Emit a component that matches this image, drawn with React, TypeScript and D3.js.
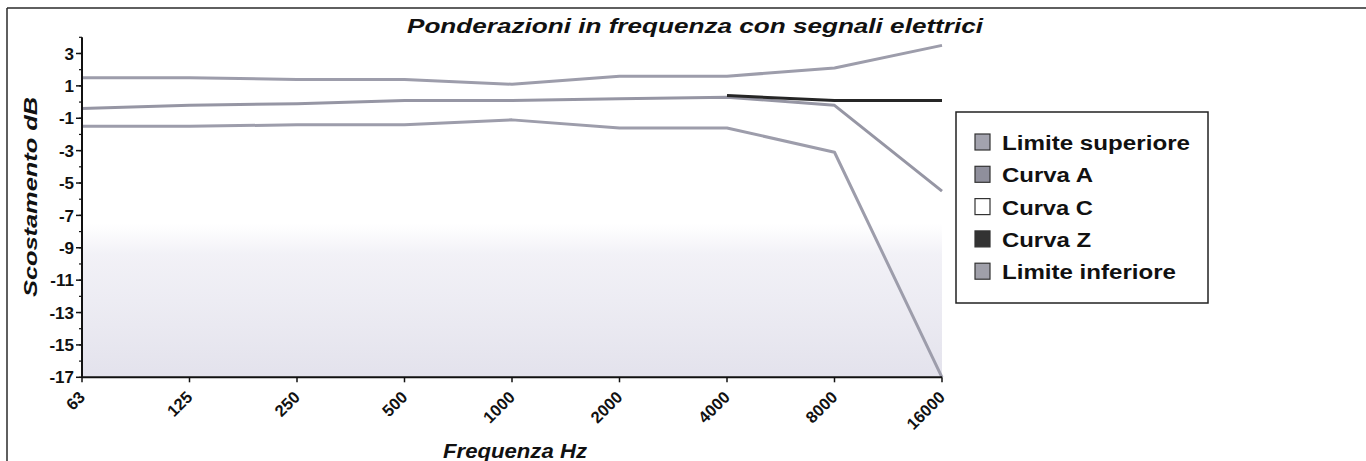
import React from "react";
import * as d3 from "d3";

const freqs = ["63", "125", "250", "500", "1000", "2000", "4000", "8000", "16000"];
const limiteSuperiore: (number | null)[] = [1.5, 1.5, 1.4, 1.4, 1.1, 1.6, 1.6, 2.1, 3.5];
const curvaA: (number | null)[] = [-0.4, -0.2, -0.1, 0.1, 0.1, 0.2, 0.3, -0.2, -5.5];
const curvaC: (number | null)[] = [null, null, null, null, null, null, null, null, null];
const curvaZ: (number | null)[] = [null, null, null, null, null, null, 0.4, 0.1, 0.1];
const limiteInferiore: (number | null)[] = [-1.5, -1.5, -1.4, -1.4, -1.1, -1.6, -1.6, -3.1, -17];
const yTicks = [3, 1, -1, -3, -5, -7, -9, -11, -13, -15, -17];
const yMinor = d3.range(-17, 5, 1);

const seriesNames = ["Limite superiore", "Curva A", "Curva C", "Curva Z", "Limite inferiore"];
const seriesData = [limiteSuperiore, curvaA, curvaC, curvaZ, limiteInferiore];
const lineColors = ["#9d9dab", "#9696a4", "#ffffff", "#262626", "#9d9dab"];
const swatchColors = ["#a3a3ae", "#8f8f9c", "#ffffff", "#333333", "#a0a0aa"];
const legendTextWidths = [188, 91, 91, 89, 174];

export default function App() {
  const W = 1366, H = 461;
  const x = d3.scalePoint<string>().domain(freqs).range([82, 942]);
  const y = d3.scaleLinear().domain([-17, 4]).range([377.3, 37.3]);
  const line = d3
    .line<number | null>()
    .defined((d) => d !== null)
    .x((_, i) => x(freqs[i]) as number)
    .y((d) => y(d as number));

  const font = "'Liberation Sans', Arial, Helvetica, sans-serif";
  const legendX = 956, legendY = 112, legendW = 252, legendH = 191;

  return (
    <svg
      width={W}
      height={H}
      style={{ position: "absolute", left: 0, top: 0, background: "#fff" }}
      fontFamily={font}
    >
      <defs>
        <linearGradient id="scan" x1="0" y1="0" x2="0" y2="1">
          <stop offset="0" stopColor="#ecebf3" stopOpacity="0" />
          <stop offset="0.2" stopColor="#e9e8f1" stopOpacity="0.6" />
          <stop offset="1" stopColor="#e3e2ec" stopOpacity="1" />
        </linearGradient>
      </defs>
      <rect x={0} y={0} width={W} height={H} fill="#fff" />
      {/* outer frame */}
      <line x1={7} y1={8} x2={W} y2={8} stroke="#2a2a2a" strokeWidth={1.5} />
      <line x1={7} y1={8} x2={7} y2={H} stroke="#2a2a2a" strokeWidth={1.5} />

      {/* scan tint */}
      <rect x={x("63")} y={y(-7.5)} width={(x("16000") as number) - (x("63") as number)} height={y(-17) - y(-7.5)} fill="url(#scan)" />

      {/* title */}
      <text x={407} y={33} fontSize={21} fontWeight="bold" fontStyle="italic" textLength={576} lengthAdjust="spacingAndGlyphs" fill="#111">
        Ponderazioni in frequenza con segnali elettrici
      </text>

      {/* series lines */}
      {seriesData.map((s, i) => (
        <path key={i} d={line(s) || ""} fill="none" stroke={lineColors[i]} strokeWidth={3} strokeLinejoin="round" />
      ))}

      {/* y axis */}
      <line x1={82} y1={y(4)} x2={82} y2={y(-17)} stroke="#111" strokeWidth={2} />
      {yMinor.map((v) => (
        <line key={"m" + v} x1={79} x2={82} y1={y(v)} y2={y(v)} stroke="#111" strokeWidth={1.2} />
      ))}
      {yTicks.map((v) => (
        <g key={v}>
          <line x1={76} x2={82} y1={y(v)} y2={y(v)} stroke="#111" strokeWidth={1.5} />
          <text x={74} y={y(v)} dy="0.36em" textAnchor="end" fontSize={17} fontWeight="bold" fill="#111">
            {v}
          </text>
        </g>
      ))}

      {/* x axis */}
      <line x1={82} y1={y(-17)} x2={942} y2={y(-17)} stroke="#111" strokeWidth={2} />
      {freqs.map((f) => (
        <g key={f}>
          <line x1={x(f)} x2={x(f)} y1={y(-17)} y2={y(-17) + 5} stroke="#111" strokeWidth={1.5} />
          <text
            transform={`translate(${(x(f) as number) + 4},${y(-17) + 21}) rotate(-45)`}
            textAnchor="end"
            fontSize={16.5}
            fontWeight="bold"
            fill="#111"
          >
            {f}
          </text>
        </g>
      ))}

      {/* axis titles */}
      <text x={443} y={458} fontSize={20} fontWeight="bold" fontStyle="italic" textLength={144} lengthAdjust="spacingAndGlyphs" fill="#111">
        Frequenza Hz
      </text>
      <text
        transform={`translate(37,297) rotate(-90)`}
        fontSize={19}
        fontWeight="bold"
        fontStyle="italic"
        textLength={200}
        lengthAdjust="spacingAndGlyphs"
        fill="#111"
      >
        Scostamento dB
      </text>

      {/* legend */}
      <rect x={legendX} y={legendY} width={legendW} height={legendH} fill="#fff" stroke="#222" strokeWidth={1.5} />
      {seriesNames.map((n, i) => {
        const by = 150 + i * 32.3;
        return (
          <g key={n}>
            <rect x={975} y={by - 16} width={15} height={16} fill={swatchColors[i]} stroke="#333" strokeWidth={1.2} />
            <text x={1002} y={by} fontSize={20} fontWeight="bold" textLength={legendTextWidths[i]} lengthAdjust="spacingAndGlyphs" fill="#111">
              {n}
            </text>
          </g>
        );
      })}
    </svg>
  );
}
